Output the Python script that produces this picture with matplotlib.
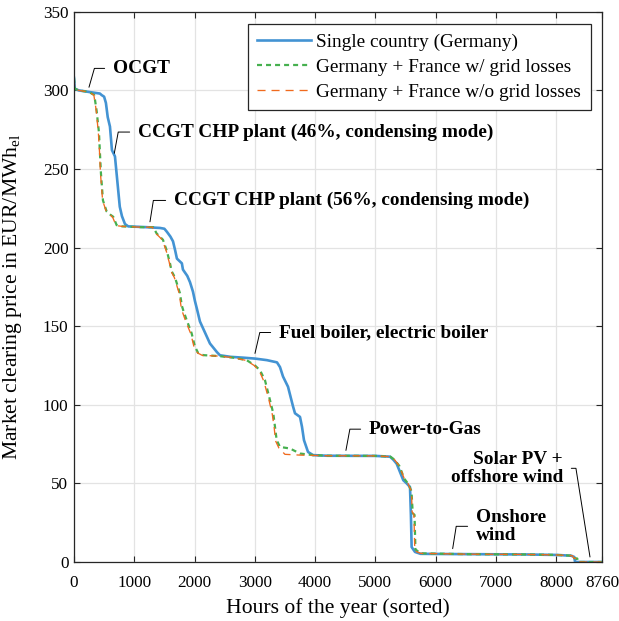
import matplotlib
matplotlib.use("Agg")
import matplotlib.pyplot as plt
import numpy as np

# price duration curves (hour of year, EUR/MWh_el)
hours_single = [0, 15, 80, 250, 430, 460, 500, 530, 560, 597, 630, 680, 700, 720, 760, 796, 846,
                900, 1200, 1427, 1500, 1543, 1600, 1643, 1680, 1708, 1790, 1808, 1880, 1925, 1974,
                2007, 2040, 2090, 2173, 2256, 2372, 2422, 2600, 2804, 3003, 3202, 3368, 3418, 3468,
                3551, 3634, 3667, 3750, 3783, 3816, 3883, 3966, 4200, 5000, 5243, 5300, 5354, 5464,
                5520, 5575, 5590, 5602, 5658, 5750, 6500, 7500, 8000, 8250, 8300, 8312, 8330, 8760]
price_single = [308, 301, 300, 299, 298, 297, 296, 292, 283, 277, 262, 258, 250, 242, 226, 220, 215,
                213.5, 213, 212.5, 212, 210, 207, 204, 198, 193, 190, 186, 182, 178, 172,
                166, 161, 153, 146, 139, 133.5, 131.5, 130.5, 130, 129.4, 128.4, 127, 124, 118,
                111.5, 99, 94.6, 92.3, 86, 77.5, 70, 68, 67.6, 67.5, 67, 65, 62.5, 52,
                50, 47.7, 30, 9.5, 6.4, 5.2, 5, 4.8, 4.5, 4, 3.2, 0.3, 0, 0]

hours_loss = [0, 15, 80, 250, 337, 376, 415, 431, 448, 481, 542, 600, 652, 708, 800, 1100, 1316,
              1371, 1476, 1540, 1593, 1620, 1676, 1758, 1790, 1814, 1869, 1952, 2007, 2060, 2145,
              2400, 2643, 2865, 3003, 3086, 3169, 3252, 3307, 3335, 3363, 3418, 3584, 3750, 3966,
              4200, 5000, 5250, 5320, 5400, 5480, 5540, 5600, 5620, 5650, 5665, 5750, 6500, 7500,
              8000, 8280, 8300, 8350, 8360, 8760]
price_loss = [308, 301, 300, 299, 297, 287, 273, 260, 247, 230, 223, 221, 219.6, 214.3, 213.5, 213, 213,
              209, 205, 198, 190, 185, 181, 171, 163, 160, 154, 145.5, 137, 133, 131.6,
              131, 130, 128.4, 125, 122, 115.6, 103, 94.5, 86, 77.5, 73.2, 72.2, 69, 68,
              67.6, 67.5, 67, 65, 61, 53, 50, 45, 31, 30, 8, 5.5, 5, 4.8,
              4.5, 4, 2.5, 2.2, 0, 0]

hours_noloss = [0, 15, 80, 250, 330, 370, 405, 425, 440, 475, 535, 600, 645, 700, 800, 1100, 1300,
                1360, 1465, 1530, 1585, 1610, 1665, 1745, 1775, 1800, 1855, 1940, 1990, 2050, 2130,
                2400, 2640, 2860, 2990, 3070, 3150, 3235, 3290, 3320, 3345, 3400, 3500, 3750, 3966,
                4200, 5000, 5250, 5320, 5400, 5480, 5540, 5600, 5610, 5640, 5655, 5750, 6500, 7500,
                8000, 8270, 8290, 8340, 8350, 8760]
price_noloss = [308, 301, 300, 299, 297, 287, 273, 260, 247, 230, 223, 221, 219, 214, 213.5, 213, 213,
                209, 205, 198, 190, 185, 181, 171, 163, 159, 153, 145, 137, 133, 131.4,
                131, 130, 128.2, 125, 122, 115, 103, 94, 86, 77, 72.5, 68.5, 68, 67.8,
                67.6, 67.5, 67, 65, 61, 53, 50, 45, 32, 30, 7, 5.5, 5, 4.8,
                4.5, 4, 2.5, 2.2, 0, 0]

series_labels = ["Single country (Germany)",
                 "Germany + France w/ grid losses",
                 "Germany + France w/o grid losses"]

# annotations: text, point on curve, text anchor, leader angle
ann_text = ["OCGT", "CCGT CHP plant (46%, condensing mode)", "CCGT CHP plant (56%, condensing mode)",
            "Fuel boiler, electric boiler", "Power-to-Gas", "Onshore\nwind", "Solar PV +\noffshore wind"]
ann_xy = [(249, 302), (669, 260), (1261, 216.4), (3003, 132.7), (4512, 71), (6283, 8.5), (8561, 3.2)]
ann_xytext = [(647, 314), (1062, 273.5), (1659, 230), (3401, 146), (4894, 84.5), (6669, 22.7), (8113, 59.6)]
ann_angle = [74, 79.5, 81, 77, 79.5, 81, 99]

xticks = [0, 1000, 2000, 3000, 4000, 5000, 6000, 7000, 8000, 8760]
yticks = [0, 50, 100, 150, 200, 250, 300, 350]

plt.rcParams['font.family'] = ['Liberation Serif', 'DejaVu Serif']
plt.rcParams['mathtext.fontset'] = 'custom'
plt.rcParams['mathtext.rm'] = 'Liberation Serif'
plt.rcParams['lines.scale_dashes'] = False

fig = plt.figure(figsize=(6.19, 6.21), dpi=100)
ax = fig.add_axes([0.1195, 0.095, 0.853, 0.886])

ax.plot(hours_single, price_single, color='#4393d3', lw=1.9, label=series_labels[0])
ax.plot(hours_loss, price_loss, color='#46b04f', lw=1.6, ls=(0, (3.6, 2.9)), label=series_labels[1])
ax.plot(hours_noloss, price_noloss, color='#f06a1e', lw=0.95, ls=(0, (5.8, 4.3)), label=series_labels[2])

ax.set_xlim(0, 8760)
ax.set_ylim(0, 350)
ax.set_xticks(xticks)
ax.set_yticks(yticks)
ax.tick_params(direction='in', length=4.5, width=0.8, labelsize=12.3, top=True, right=True,
               colors='#262626', labelcolor='black')
ax.tick_params(axis='x', pad=9)
ax.tick_params(axis='y', pad=4)
ax.grid(True, color='#e3e3e3', lw=0.9)
ax.set_axisbelow(True)
for s in ax.spines.values():
    s.set_color('#262626')
    s.set_linewidth(0.9)

ax.set_xlabel("Hours of the year (sorted)", fontsize=15.6, labelpad=5.5)
ax.set_ylabel(r"Market clearing price in EUR/MWh$_\mathregular{el}$", fontsize=15.6)
ax.yaxis.set_label_coords(-0.094, 0.482)

for t, xy, xyt, ang in zip(ann_text, ann_xy, ann_xytext, ann_angle):
    right = t.startswith("Solar")
    ax.annotate(t, xy=xy, xytext=xyt, fontsize=13.9, fontweight='bold',
                ha='right' if right else 'left', va='center',
                multialignment='right' if right else 'left', linespacing=1.1,
                arrowprops=dict(arrowstyle='-', color='black', lw=0.7, shrinkA=4, shrinkB=0,
                                relpos=(1, 0.5) if right else (0, 0.5),
                                connectionstyle=f'angle,angleA=0,angleB={ang},rad=0'))

leg = ax.legend(loc='upper right', fontsize=13.9, handlelength=2.75, labelspacing=0.38,
                borderpad=0.5, handletextpad=0.3, borderaxespad=0, fancybox=False, framealpha=1,
                edgecolor='#262626', bbox_to_anchor=(0.979, 0.978))
leg.get_frame().set_linewidth(0.9)

fig.savefig("out.png", dpi=100)
